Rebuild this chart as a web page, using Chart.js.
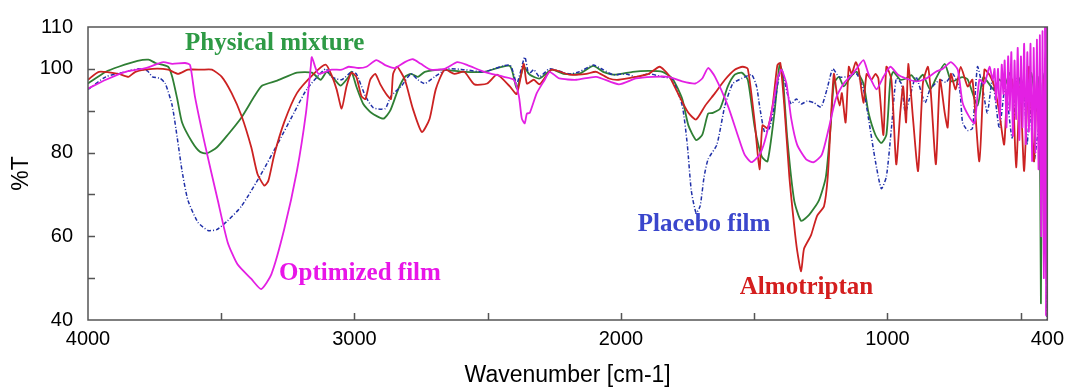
<!DOCTYPE html>
<html>
<head>
<meta charset="utf-8">
<script src="https://cdn.jsdelivr.net/npm/chart.js@4.4.1/dist/chart.umd.min.js"></script>
<style>
  html, body { margin: 0; padding: 0; background: #fff; }
  canvas { display: block; }
</style>
</head>
<body>
<canvas id="ftir" width="1071" height="390"></canvas>
<script>
// wavenumber [cm-1], %T
const optimizedFilm = [[4000,95.3],[3933,97.4],[3859,99.3],[3784,100.2],[3717,101.6],[3684,101.2],[3636,101.4],[3617,100.9],[3599,93.5],[3561,81.9],[3513,68.6],[3476,58.6],[3439,53.3],[3387,49.8],[3350,47.4],[3312,50.9],[3264,61.6],[3216,75.6],[3182,89.5],[3164,100.5],[3160,102.8],[3145,100],[3134,98.8],[3086,99.8],[3048,99.8],[3022,100.5],[2985,100.2],[2955,100.5],[2918,102.1],[2885,100.9],[2848,100.2],[2811,101.6],[2781,102.3],[2751,101.2],[2714,99.8],[2662,100],[2614,101.6],[2576,100.9],[2513,99.3],[2439,98.1],[2402,97.4],[2383,93.5],[2372,88.1],[2361,87.0],[2353,89.3],[2342,89.5],[2316,94.2],[2286,97.4],[2268,99.3],[2231,97.7],[2167,97.4],[2093,98.1],[2008,96.3],[1944,97.7],[1881,98.1],[1822,98.1],[1770,97.0],[1721,96.5],[1695,97.7],[1673,100.2],[1647,98.1],[1599,91.2],[1562,84.2],[1536,79.5],[1510,77.7],[1480,79.5],[1461,82.6],[1435,89.5],[1413,97.4],[1398,99.8],[1379,96.5],[1361,88.1],[1339,81.9],[1305,78.4],[1276,77.7],[1246,79.5],[1220,85.8],[1194,92.8],[1164,96.5],[1134,98.6],[1116,100],[1090,102.1],[1071,98.8],[1041,95.1],[1015,98.1],[989,100.5],[960,98.6],[930,97.7],[893,97.0],[855,97.7],[818,99.3],[792,100],[762,101.6],[736,99.8],[718,91.9],[692,88.4],[673,87.0],[655,97.4],[636,96.5],[617,100.5],[605,97.4],[598,100],[592,92],[585,100],[578,88],[571,101],[565,94],[560,102],[553,86],[547,103],[541,90],[535,104],[529,84],[523,102],[517,88],[511,105],[505,83],[499,103],[493,86],[487,106],[481,82],[475,104],[469,85],[463,106],[457,78],[451,105],[445,80],[439,107],[433,76],[428,108],[423,60],[418,109],[413,50],[409,110],[405,41],[402,110],[400,104]];

const almotriptan = [[4000,97.4],[3959,99.3],[3885,98.8],[3848,98.1],[3822,99.3],[3758,100],[3699,99.8],[3662,98.8],[3625,99.8],[3573,99.8],[3535,99.8],[3498,98.1],[3461,94.2],[3424,88.8],[3387,81.2],[3364,74.9],[3338,72.1],[3323,73.3],[3301,79.5],[3264,87.2],[3216,94.2],[3153,98.8],[3108,101.0],[3086,98.5],[3067,95.1],[3048,90.5],[3030,95.8],[3011,99.1],[2993,98.1],[2974,93.5],[2959,92.8],[2941,97.4],[2922,98.8],[2903,96.3],[2881,94.0],[2863,92.8],[2855,98.8],[2840,100.5],[2811,97.4],[2781,90.5],[2747,84.9],[2718,88.1],[2695,95.1],[2662,99.8],[2625,98.8],[2588,99.3],[2550,96.3],[2502,96.5],[2465,98.6],[2417,95.8],[2391,94.0],[2365,101.2],[2353,96.5],[2327,97.4],[2305,96.3],[2260,99.8],[2193,98.6],[2130,98.8],[2093,99.3],[2045,97.7],[2008,97.4],[1944,98.1],[1896,98.8],[1855,100.5],[1822,98.6],[1785,94.0],[1747,89.5],[1718,87.9],[1684,91.2],[1647,94.2],[1610,97.4],[1573,99.8],[1543,100.5],[1524,100],[1498,87.2],[1480,76.0],[1469,86.5],[1450,85.8],[1431,91.2],[1413,100.9],[1402,101.4],[1387,91.2],[1368,74.2],[1350,62.6],[1339,56.7],[1324,51.6],[1313,57.0],[1287,60.2],[1264,64.9],[1238,67.2],[1224,74.2],[1212,88.1],[1201,98.8],[1190,94.2],[1179,91.2],[1171,94.2],[1157,87.2],[1145,100.5],[1134,98.8],[1119,101.6],[1108,99.8],[1090,91.9],[1078,98.8],[1060,97.4],[1045,98.8],[1034,97.7],[1015,84.2],[1004,100.5],[985,97.4],[967,77.2],[952,89.5],[941,95.8],[930,87.2],[922,101.2],[904,88.1],[885,75.6],[867,96.5],[848,100.5],[837,94.2],[818,77.2],[803,97.4],[785,89.5],[774,86.0],[762,98.8],[744,95.1],[725,100.5],[699,95.8],[681,97.4],[655,77.9],[636,99.8],[617,98.6],[599,95.8],[580,89.5],[562,81.9],[551,93.5],[532,97.4],[517,76.5],[502,95.8],[487,75.6],[469,100.5],[450,77.9],[439,97.4],[428,81.9],[413,97.4],[405,90],[400,98]];

const placeboFilm = [[4000,95.1],[3933,98.1],[3859,99.3],[3810,100],[3777,99.5],[3758,98.1],[3729,97.7],[3710,96.5],[3684,91.2],[3665,83.5],[3647,75.6],[3625,68.6],[3587,63.3],[3550,61.4],[3517,61.6],[3476,63.7],[3424,67.2],[3350,74.9],[3290,81.9],[3227,89.5],[3179,95.1],[3108,100],[3086,98.1],[3048,97.4],[3011,99.3],[2993,98.8],[2959,93.5],[2929,90.7],[2885,90.5],[2863,93.5],[2825,95.8],[2788,98.8],[2762,97.4],[2736,96.5],[2699,98.1],[2651,100],[2588,99.8],[2513,99.3],[2417,100.9],[2391,96.5],[2361,102.8],[2346,98.8],[2327,99.8],[2305,98.1],[2268,100],[2193,98.8],[2156,99.3],[2104,100.9],[2067,99.8],[2030,98.6],[1982,98.8],[1944,98.1],[1896,98.8],[1844,98.1],[1807,97.4],[1770,91.2],[1751,81.9],[1736,70.9],[1718,65.6],[1703,67.2],[1688,74.2],[1673,78.4],[1640,81.9],[1610,91.2],[1580,96.5],[1547,97.7],[1510,98.6],[1491,95.8],[1480,91.2],[1461,84.9],[1443,85.8],[1424,91.2],[1405,98.8],[1394,99.3],[1376,94.2],[1361,91.6],[1342,92.8],[1324,91.6],[1301,92.3],[1276,91.9],[1249,90.9],[1227,95.1],[1205,100],[1182,98.1],[1153,98.1],[1116,98.8],[1090,95.1],[1071,88.1],[1045,77.9],[1023,71.4],[1004,74.2],[985,85.8],[967,97.7],[948,96.5],[933,89.5],[915,93.5],[893,98.1],[859,91.9],[840,95.1],[803,97.4],[780,96.8],[755,98.8],[729,95.1],[718,87.2],[699,85.3],[681,85.8],[662,100.5],[644,95.8],[625,89.5],[606,97.4],[580,85.8],[558,95.8],[532,83.5],[513,98.1],[487,93.5],[476,81.9],[465,90.7],[450,77.9],[432,85.8],[421,75.6],[412,95],[405,80],[402,40]];

const physicalMixture = [[4000,96.5],[3933,99.3],[3885,100.5],[3814,101.9],[3773,102.2],[3747,101.4],[3699,100.5],[3684,98.1],[3665,92.8],[3647,87.2],[3610,82.6],[3580,80.2],[3554,79.8],[3517,81.2],[3476,84.2],[3424,88.4],[3375,93.5],[3346,96.0],[3290,97.2],[3216,99.1],[3160,99.1],[3127,97.4],[3104,99.3],[3078,97.7],[3052,96.0],[3022,98.1],[3011,99.3],[2993,95.8],[2967,91.6],[2937,89.5],[2892,88.1],[2866,90.0],[2836,95.1],[2811,98.1],[2788,98.8],[2762,98.1],[2736,99.3],[2677,99.8],[2588,99.3],[2513,99.3],[2417,100.7],[2391,95.3],[2365,100.5],[2342,98.6],[2305,97.7],[2260,99.8],[2216,98.8],[2156,98.8],[2104,100.7],[2067,99.3],[2019,98.6],[1956,99.3],[1896,99.5],[1844,99.3],[1807,97.7],[1770,92.8],[1747,86.5],[1718,83.0],[1695,84.2],[1673,89.3],[1655,89.5],[1628,90.5],[1599,95.8],[1573,98.6],[1547,99.1],[1524,97.4],[1498,86],[1472,79.1],[1450,77.9],[1424,89.5],[1405,100.9],[1394,99.3],[1376,83.5],[1350,68.6],[1324,63.7],[1294,65.1],[1257,68.6],[1231,74.2],[1212,87.2],[1201,96.5],[1182,98.1],[1164,95.8],[1138,98.1],[1116,99.3],[1090,96.5],[1071,89.5],[1045,84.2],[1023,82.3],[1004,84.2],[989,97.4],[978,99.3],[952,97.4],[930,97.7],[910,98.5],[890,97],[867,98.6],[840,95.1],[818,97.7],[785,101.2],[760,97],[720,98],[699,97.5],[662,91.2],[640,98],[600,95],[580,97.5],[560,96],[540,99],[520,93],[500,98],[480,92],[460,99],[440,90],[430,98],[424,44],[418,96],[410,99],[405,95],[400,97]];

const xTickLabels = [4000, 3000, 2000, 1000, 400];
const xTickMarks = [3500, 3000, 2500, 2000, 1500, 1000, 500];
const yTickLabels = [110, 100, 80, 60, 40];
const yTickMarks = [50, 60, 70, 80, 90, 100];

// text labels next to the traces: [text, wavenumber, %T, colour]
const seriesNotes = [
  ['Physical mixture', 3636, 104.4, '#2e9a45'],
  ['Optimized film', 3283, 49.5, '#e815e8'],
  ['Placebo film', 1937, 61.2, '#3a46cc'],
  ['Almotriptan', 1554, 46.3, '#d41e1e']
];

const toPts = arr => arr.map(p => ({ x: p[0], y: p[1] }));

const framePlugin = {
  id: 'frame',
  afterDraw(chart) {
    const { ctx, chartArea: a, scales: { x, y } } = chart;
    ctx.save();
    ctx.strokeStyle = '#555';
    ctx.lineWidth = 1.5;
    ctx.strokeRect(a.left, a.top, a.right - a.left, a.bottom - a.top);
    ctx.beginPath();
    xTickMarks.forEach(v => {
      const px = Math.round(x.getPixelForValue(v)) + 0.5;
      ctx.moveTo(px, a.bottom);
      ctx.lineTo(px, a.bottom - 7);
    });
    yTickMarks.forEach(v => {
      const py = Math.round(y.getPixelForValue(v)) + 0.5;
      ctx.moveTo(a.left, py);
      ctx.lineTo(a.left + 7, py);
    });
    ctx.stroke();
    ctx.font = 'bold 25px "Liberation Serif", "Times New Roman", serif';
    ctx.textBaseline = 'alphabetic';
    ctx.textAlign = 'left';
    seriesNotes.forEach(n => {
      ctx.fillStyle = n[3];
      ctx.fillText(n[0], x.getPixelForValue(n[1]), y.getPixelForValue(n[2]));
    });
    ctx.restore();
  }
};

const line = (data, color, width, dash) => ({
  data: toPts(data),
  showLine: true,
  borderColor: color,
  borderWidth: width,
  borderDash: dash || [],
  pointRadius: 0,
  tension: 0.2,
  fill: false
});

new Chart(document.getElementById('ftir'), {
  type: 'scatter',
  data: {
    datasets: [
      line(optimizedFilm, '#e320e3', 1.8),
      line(almotriptan, '#cc2222', 1.8),
      line(placeboFilm, '#2030a8', 1.5, [4, 2, 1, 2]),
      line(physicalMixture, '#2f7f34', 1.8)
    ]
  },
  options: {
    responsive: false,
    animation: false,
    devicePixelRatio: 1,
    layout: { padding: { top: 19, right: 17, left: 0, bottom: 0 } },
    plugins: { legend: { display: false }, tooltip: { enabled: false } },
    scales: {
      x: {
        type: 'linear',
        reverse: true,
        min: 400,
        max: 4000,
        grid: { display: false, drawTicks: false },
        border: { display: false },
        afterBuildTicks: s => { s.ticks = xTickLabels.map(v => ({ value: v })); },
        afterFit: s => { s.height = 70; },
        ticks: {
          autoSkip: false,
          maxRotation: 0,
          padding: 7,
          color: '#000',
          font: { family: '"Liberation Sans", Arial, sans-serif', size: 20 },
          callback: v => String(v)
        },
        title: {
          display: true,
          text: 'Wavenumber [cm-1]',
          color: '#000',
          padding: { bottom: 1, top: 0 },
          font: { family: '"Liberation Sans", Arial, sans-serif', size: 23 }
        }
      },
      y: {
        min: 40,
        max: 110,
        grid: { display: false, drawTicks: false },
        border: { display: false },
        afterFit: s => { s.width = 88; },
        ticks: {
          stepSize: 10,
          padding: 15,
          color: '#000',
          font: { family: '"Liberation Sans", Arial, sans-serif', size: 20 },
          callback: v => (yTickLabels.includes(v) ? String(v) : '')
        },
        title: {
          display: true,
          text: '%T',
          color: '#000',
          padding: { top: 8, bottom: 0 },
          font: { family: '"Liberation Sans", Arial, sans-serif', size: 23 }
        }
      }
    }
  },
  plugins: [framePlugin]
});
</script>
</body>
</html>
